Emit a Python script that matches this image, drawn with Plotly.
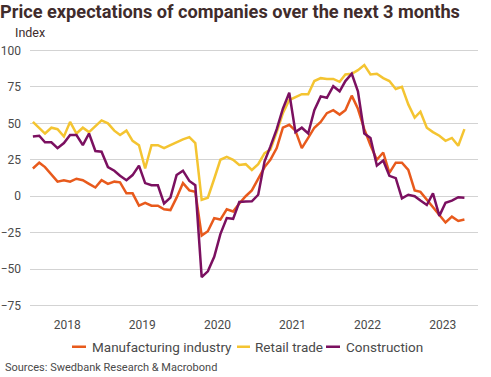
import pandas as pd
import plotly.graph_objects as go

# Monthly data, Jan 2018 - Oct 2023 (dated mid-month)
dates = [pd.Timestamp(y, m, 15) for y in range(2018, 2024) for m in range(1, 13)][:70]

manufacturing = [19, 23, 20, 15, 10, 11, 10, 12, 11, 8.5, 6, 11,
                 8.5, 10, 9.5, 2, 2, -6.5, -4.5, -6.5, -6.5, -9, -9.5, -1,
                 9, 4, 3, -27, -24, -15, -16, -9, -10.5, -5, 0, 4,
                 12, 20, 25, 33, 47, 49, 45, 33, 40, 47, 51, 57,
                 59, 56, 59, 69, 60, 46, 35, 25, 30, 16, 23, 23,
                 18, 4, 3, -2.5, -7, -13, -18, -14, -17, -16]
retail = [51, 47, 43, 47, 46, 41, 51, 43, 47, 44, 48, 52,
          50, 45, 42, 45, 38, 35, 19, 35, 35, 33, 35, 37,
          39, 40.5, 36.5, -2.5, -1, 12, 25, 27, 25, 21.5, 22, 18,
          22, 29.5, 32, 44, 57, 66, 68, 70, 70, 79, 81, 80.5,
          80.5, 78.5, 83.5, 84, 86.5, 90, 83.5, 84, 81, 79, 73.6, 75,
          63, 54, 58, 47, 44, 41.5, 38, 40, 34.6, 46]
construction = [41, 41.5, 37, 37, 33, 36.5, 42, 42, 35, 43, 31, 30.5,
                20, 17.5, 14, 11, 14.5, 21, 9, 7.5, 7.5, -5, -1, 14.5,
                17.5, 10.5, 7.5, -55.5, -51.5, -41.5, -26, -15, -15.5, -4, -3.7, -3.5,
                1, 24, 34, 46, 60, 71, 44, 47, 43, 59, 68.5, 67.5,
                75.5, 72, 79, 84, 72, 43, 40, 21, 24.5, 14, 12.4, -1.5,
                1, 0, -3, -6, 2, -13.5, -4.5, -3, -0.7, -1]

series_names = ["Manufacturing industry", "Retail trade", "Construction"]
series_colors = ["#e85a1c", "#f4c431", "#7b1060"]
year_labels = ["2018", "2019", "2020", "2021", "2022", "2023"]
y_ticks = [-75, -50, -25, 0, 25, 50, 75, 100]

FONT = "Roboto"
fig = go.Figure()
for name, vals, col in zip(series_names, [manufacturing, retail, construction], series_colors):
    fig.add_trace(go.Scatter(x=dates, y=vals, mode="lines", name=name,
                             line=dict(color=col, width=2.5), showlegend=False))

W, H = 491, 377
L, R, T, B = 30, 13, 48.8, 69.8
pw, ph = W - L - R, H - T - B

def px2paper(px, py):
    return (px - L) / pw, (H - B - py) / ph

fig.update_layout(
    width=W, height=H,
    margin=dict(l=L, r=R, t=T, b=B),
    paper_bgcolor="white", plot_bgcolor="white",
    font=dict(family=FONT, color="#4a4a4a", size=12),
    title=dict(text="<b>Price expectations of companies over the next 3 months</b>",
               x=0.0, xref="container", xanchor="left",
               y=1 - 12 / H, yref="container", yanchor="middle",
               font=dict(family=FONT, size=18.2, color="#402c2c")),
    xaxis=dict(type="date", range=["2018-01-01", "2023-12-20"], automargin=False,
               tickvals=[pd.Timestamp(int(y), 7, 1) for y in year_labels],
               ticktext=year_labels, showgrid=False, zeroline=False,
               showline=False, ticks="", tickfont=dict(size=12, color="#4a4a4a"),
               ticklabelstandoff=9),
    yaxis=dict(range=[-76, 101], tickvals=y_ticks, showgrid=True, automargin=False,
               gridcolor="#d3d3d3", gridwidth=1, zeroline=False, showline=False,
               ticks="", tickfont=dict(size=12, color="#4a4a4a"), ticklabelstandoff=8),
)

# Axis unit label
ix, iy = px2paper(13, 32)
fig.add_annotation(text="Index", x=ix, y=iy, xref="paper", yref="paper",
                   xanchor="left", yanchor="middle", showarrow=False,
                   font=dict(family=FONT, size=12.5, color="#402c2c"))

# Custom legend
leg_line = [(72, 86), (237, 250), (326, 340)]
leg_text = [90, 253, 344]
for (a, b), tx, name, col in zip(leg_line, leg_text, series_names, series_colors):
    x0, y0 = px2paper(a, 347)
    x1, _ = px2paper(b, 347)
    fig.add_shape(type="line", xref="paper", yref="paper", x0=x0, x1=x1, y0=y0, y1=y0,
                  line=dict(color=col, width=2.5))
    tx_, ty_ = px2paper(tx, 347)
    fig.add_annotation(text=name, x=tx_, y=ty_, xref="paper", yref="paper",
                       xanchor="left", yanchor="middle", showarrow=False,
                       font=dict(family=FONT, size=13.5, color="#4a4a4a"))

sx, sy = px2paper(3, 368)
fig.add_annotation(text="Sources: Swedbank Research & Macrobond", x=sx, y=sy,
                   xref="paper", yref="paper", xanchor="left", yanchor="middle",
                   showarrow=False, font=dict(family=FONT, size=11, color="#4a4a4a"))

fig.write_html("out.html", config={"displayModeBar": False},
               post_script="document.body.style.margin='0';document.body.style.padding='0';")
